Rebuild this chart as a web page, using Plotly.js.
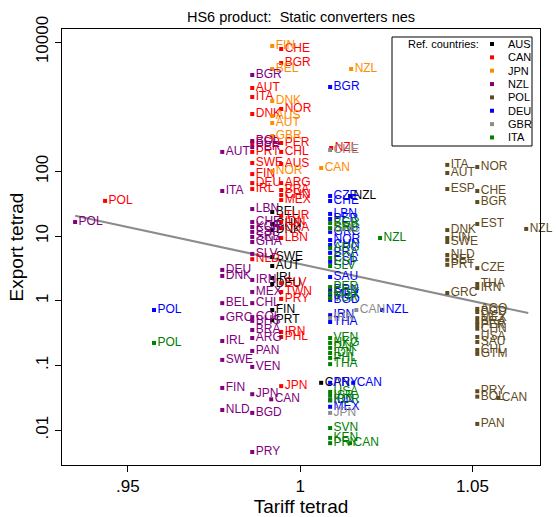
<!DOCTYPE html>
<html>
<head>
<meta charset="utf-8">
<script src="https://cdn.plot.ly/plotly-3.0.1.min.js"></script>
<style>
  body { margin: 0; background: #fff; }
  #chart { width: 556px; height: 517px; }
</style>
</head>
<body>
<div id="chart"></div>
<script>
// reference countries and their colours
var refCountries = ['AUS', 'CAN', 'JPN', 'NZL', 'POL', 'DEU', 'GBR', 'ITA'];
var refColors = ['#000000', '#ff0000', '#ff8c00', '#800080', '#5f4b22', '#0000ff', '#8c8c8c', '#008000'];

// AUS
var ausLabels = ['BEL', 'CHN', 'DNK', 'SWE', 'AUT', 'IRL', 'DEU', 'FIN', 'PRT', 'NZL', 'CAN'];
var ausTariff = [0.9919, 0.9919, 0.9919, 0.9919, 0.9919, 0.9919, 0.9919, 0.9919, 0.9919, 1.0145, 1.0061];
var ausExport = [23.6, 15.4, 12.4, 4.75, 3.45, 2.25, 1.82, 0.72, 0.50, 41.7, 0.054];

// CAN
var canLabels = ['AUT', 'ITA', 'DNK', 'ESP', 'PRT', 'SWE', 'FIN', 'DEU', 'IRL', 'NLD',
                 'CHE', 'BGR', 'NOR', 'PER', 'CHL', 'AUS', 'ARG', 'BRA', 'CHN', 'MEX',
                 'TUR', 'IDN', 'USA', 'LBN', 'SLV', 'TWN', 'PRY', 'IRN', 'PHL', 'JPN',
                 'POL', 'NZL'];
var canTariff = [0.9861, 0.9861, 0.9861, 0.9861, 0.9861, 0.9861, 0.9861, 0.9861, 0.9861, 0.9861,
                 0.9945, 0.9945, 0.9945, 0.9945, 0.9945, 0.9945, 0.9945, 0.9945, 0.9945, 0.9945,
                 0.9945, 0.9945, 0.9945, 0.9945, 0.9945, 0.9945, 0.9945, 0.9945, 0.9945, 0.9945,
                 0.9434, 1.0090];
var canExport = [1945, 1413, 771, 275, 200, 135, 91, 66, 53.4, 4.4,
                 7800, 4730, 921, 275, 200, 130, 66, 51.6, 43.2, 36.1,
                 20.5, 16.5, 13.3, 9.35, 1.88, 1.37, 1.07, 0.33, 0.276, 0.048,
                 35, 230];

// JPN
var jpnLabels = ['FIN', 'BEL', 'DNK', 'AUS', 'AUT', 'GBR', 'NOR', 'NZL', 'CAN'];
var jpnTariff = [0.9919, 0.9919, 0.9919, 0.9919, 0.9919, 0.9919, 0.9919, 1.0148, 1.0061];
var jpnExport = [8670, 3830, 1225, 718, 560, 352, 101, 3830, 113];

// NZL
var nzlLabels = ['BGR', 'BOL', 'PER', 'LBN', 'CHE', 'KOR', 'ESP', 'SRB', 'GHA', 'SLV',
                 'IRN', 'MEX', 'CHL', 'COL', 'BHS', 'BRA', 'ARG', 'PAN', 'VEN', 'JPN',
                 'BGD', 'PRY',
                 'AUT', 'ITA', 'DEU', 'DNK', 'BEL', 'GRC', 'IRL', 'SWE', 'FIN', 'NLD',
                 'CAN', 'POL'];
var nzlTariff = [0.9861, 0.9861, 0.9861, 0.9861, 0.9861, 0.9861, 0.9861, 0.9861, 0.9861, 0.9861,
                 0.9861, 0.9861, 0.9861, 0.9861, 0.9861, 0.9861, 0.9861, 0.9861, 0.9861, 0.9861,
                 0.9861, 0.9861,
                 0.9774, 0.9774, 0.9774, 0.9774, 0.9774, 0.9774, 0.9774, 0.9774, 0.9774, 0.9774,
                 0.9916, 0.9347];
var nzlExport = [3090, 295, 238, 26.2, 16.5, 13.8, 11.6, 9.7, 8.1, 5.3,
                 2.1, 1.37, 0.92, 0.56, 0.49, 0.354, 0.266, 0.168, 0.095, 0.036,
                 0.0185, 0.0046,
                 200, 49.8, 3.0, 2.42, 0.92, 0.54, 0.239, 0.122, 0.045, 0.0205,
                 0.030, 16.5];

// POL
var polLabels = ['ITA', 'AUT', 'ESP', 'DNK', 'FIN', 'SWE', 'NLD', 'BEL', 'PRT', 'GRC',
                 'NOR', 'CHE', 'BGR', 'EST', 'CZE', 'THA', 'IRN', 'AGO', 'BGD', 'MEX',
                 'BRA', 'PER', 'CHN', 'USA', 'SAU', 'CHL', 'GTM', 'PRY', 'BOL', 'PAN',
                 'CAN', 'NZL'];
var polTariff = [1.0427, 1.0427, 1.0427, 1.0427, 1.0427, 1.0427, 1.0427, 1.0427, 1.0427, 1.0427,
                 1.0514, 1.0514, 1.0514, 1.0514, 1.0514, 1.0514, 1.0514, 1.0514, 1.0514, 1.0514,
                 1.0514, 1.0514, 1.0514, 1.0514, 1.0514, 1.0514, 1.0514, 1.0514, 1.0514, 1.0514,
                 1.0575, 1.0656];
var polExport = [126, 94.5, 53.4, 12.4, 9.35, 8.1, 5.1, 4.3, 3.6, 1.32,
                 117, 49.8, 33.6, 15.4, 3.2, 1.82, 1.58, 0.75, 0.67, 0.54,
                 0.47, 0.42, 0.37, 0.276, 0.231, 0.174, 0.151, 0.040, 0.033, 0.0125,
                 0.0315, 12.9];

// DEU
var deuLabels = ['BGR', 'CZE', 'CHE', 'LBN', 'PER', 'GRC', 'NOR', 'CHN', 'BRA', 'ESP',
                 'SAU', 'BRN', 'MEX', 'BGD', 'IRN', 'THA', 'PRY', 'IDN', 'MEX',
                 'NZL', 'CAN', 'POL'];
var deuTariff = [1.0087, 1.0087, 1.0087, 1.0087, 1.0087, 1.0087, 1.0087, 1.0087, 1.0087, 1.0087,
                 1.0087, 1.0087, 1.0087, 1.0087, 1.0087, 1.0087, 1.0087, 1.0087, 1.0087,
                 1.0238, 1.0154, 0.9576];
var deuExport = [2015, 41.7, 34.9, 22.0, 18.4, 11.6, 8.7, 7.3, 5.5, 4.0,
                 2.33, 1.47, 1.23, 1.03, 0.60, 0.47, 0.054, 0.029, 0.023,
                 0.72, 0.054, 0.72];

// GBR
var gbrLabels = ['CHE', 'GRC', 'IRN', 'CAN', 'JPN'];
var gbrTariff = [1.0087, 1.0087, 1.0087, 1.0163, 1.0087];
var gbrExport = [214, 12.9, 0.54, 0.72, 0.0185];

// ITA
var itaLabels = ['BGR', 'SRB', 'ARG', 'COL', 'SLV', 'PER', 'EGY', 'TUR', 'VEN', 'HKG',
                 'PAK', 'IDN', 'PHL', 'THA', 'USA', 'ISR', 'KOR', 'SVN', 'KEN', 'PRY',
                 'CAN', 'NZL', 'POL'];
var itaTariff = [1.0087, 1.0087, 1.0087, 1.0087, 1.0087, 1.0087, 1.0087, 1.0087, 1.0087, 1.0087,
                 1.0087, 1.0087, 1.0087, 1.0087, 1.0087, 1.0087, 1.0087, 1.0087, 1.0087, 1.0087,
                 1.0145, 1.0232, 0.9576];
var itaExport = [15.9, 13.3, 6.5, 4.6, 3.45, 1.63, 1.32, 1.1, 0.266, 0.223,
                 0.187, 0.156, 0.131, 0.105, 0.039, 0.034, 0.029, 0.0108, 0.0076, 0.0063,
                 0.0063, 9.35, 0.223];

// fitted line
var fitTariff = [0.9347, 1.0662];
var fitExport = [20.6, 0.647];

// axis ticks
var tariffTicks = [0.95, 1, 1.05];
var tariffTickText = ['.95', '1', '1.05'];
var exportTicks = [0.01, 0.1, 1, 10, 100, 10000];
var exportTickText = ['.01', '.1', '1', '10', '100', '10000'];

var series = [
    [ausLabels, ausTariff, ausExport],
    [canLabels, canTariff, canExport],
    [jpnLabels, jpnTariff, jpnExport],
    [nzlLabels, nzlTariff, nzlExport],
    [polLabels, polTariff, polExport],
    [deuLabels, deuTariff, deuExport],
    [gbrLabels, gbrTariff, gbrExport],
    [itaLabels, itaTariff, itaExport]
];

var FONT = 'Liberation Sans, Arial, sans-serif';

var data = [{
    x: fitTariff,
    y: fitExport,
    type: 'scatter',
    mode: 'lines',
    line: {color: '#8c8c8c', width: 2},
    showlegend: false,
    hoverinfo: 'skip'
}];

for (var i = 0; i < series.length; i++) {
    data.push({
        x: series[i][1],
        y: series[i][2],
        text: series[i][0],
        name: refCountries[i],
        type: 'scatter',
        mode: 'markers+text',
        textposition: 'middle right',
        cliponaxis: false,
        marker: {symbol: 'square', size: 4, color: refColors[i]},
        textfont: {family: FONT, size: 12, color: refColors[i]},
        showlegend: false
    });
}

// plot area in pixels, used for the hand-made legend box
var M = {l: 62, r: 16, t: 29, b: 52};
var W = 556, H = 517;
function px(x) { return (x - M.l) / (W - M.l - M.r); }
function py(y) { return 1 - (y - M.t) / (H - M.t - M.b); }

var shapes = [{
    type: 'rect', xref: 'paper', yref: 'paper',
    x0: px(392), x1: px(532), y0: py(146), y1: py(37),
    line: {color: '#000', width: 1}, fillcolor: '#fff'
}];
var annotations = [{
    xref: 'paper', yref: 'paper', x: px(481), y: py(44),
    xanchor: 'right', yanchor: 'middle', showarrow: false,
    text: 'Ref. countries:', font: {family: FONT, size: 11, color: '#000'}
}];
for (var j = 0; j < refCountries.length; j++) {
    var cy = 44 + j * 13.35;
    shapes.push({
        type: 'rect', xref: 'paper', yref: 'paper',
        x0: px(490), x1: px(494), y0: py(cy + 2), y1: py(cy - 2),
        line: {width: 0}, fillcolor: refColors[j]
    });
    annotations.push({
        xref: 'paper', yref: 'paper', x: px(506), y: py(cy),
        xanchor: 'left', yanchor: 'middle', showarrow: false,
        text: refCountries[j], font: {family: FONT, size: 11, color: '#000'}
    });
}

var layout = {
    width: W,
    height: H,
    margin: M,
    paper_bgcolor: '#fff',
    plot_bgcolor: '#fff',
    font: {family: FONT, color: '#000'},
    title: {
        text: 'HS6 product:\u00a0 Static converters nes',
        font: {family: FONT, size: 14.5, color: '#000'},
        xref: 'paper', x: 0.5, xanchor: 'center',
        yref: 'container', y: 1 - 17 / H, yanchor: 'middle'
    },
    xaxis: {
        range: [0.9309, 1.0696],
        tickvals: tariffTicks,
        ticktext: tariffTickText,
        ticks: 'outside', ticklen: 6, tickcolor: '#000',
        tickfont: {size: 17},
        showgrid: false, zeroline: false,
        showline: true, mirror: true, linecolor: '#000', linewidth: 1,
        title: {text: 'Tariff tetrad', font: {size: 19}, standoff: 7}
    },
    yaxis: {
        type: 'log',
        range: [-2.538, 4.201],
        tickvals: exportTicks,
        ticktext: exportTickText,
        tickangle: -90,
        ticks: 'outside', ticklen: 6, tickcolor: '#000',
        tickfont: {size: 17},
        showgrid: false, zeroline: false,
        showline: true, mirror: true, linecolor: '#000', linewidth: 1,
        title: {text: 'Export tetrad', font: {size: 19}, standoff: 4}
    },
    shapes: shapes,
    annotations: annotations,
    showlegend: false,
    hovermode: 'closest'
};

Plotly.newPlot('chart', data, layout, {displayModeBar: false, staticPlot: true});
</script>
</body>
</html>
